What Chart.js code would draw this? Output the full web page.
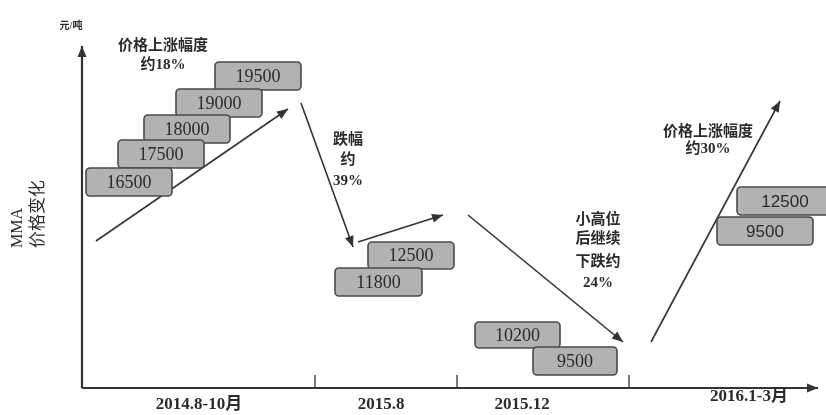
<!DOCTYPE html>
<html><head><meta charset="utf-8">
<script src="https://cdn.jsdelivr.net/npm/chart.js@4"></script>
<style>html,body{margin:0;padding:0;background:#fff}#wrap{width:826px;height:415px;position:relative}</style>
</head><body><div id="wrap"><canvas id="c"></canvas></div>
<script>
// ---- data ----
const periods = ['2014.8-10月', '2015.8', '2015.12', '2016.1-3月'];
const stage1Prices = [19500, 19000, 18000, 17500, 16500];
const stage2Prices = [12500, 11800];
const stage3Prices = [10200, 9500];
const stage4Prices = [12500, 9500];
const note1 = ['价格上涨幅度', '约18%'];
const note2 = ['跌幅', '约', '39%'];
const note3 = ['小高位', '后继续', '下跌约', '24%'];
const note4 = ['价格上涨幅度', '约30%'];
const yTitle = ['MMA', '价格变化'];
const unitLabel = '元/吨';

// ---- layout (diagram units, one unit per canvas pixel) ----
const W = 826, H = 415;
const boxLayout = [
  {prices: stage1Prices, rects: [[215,62,86,28],[176,89,86,28],[144,115,86,28],[118,140,86,28],[86,168,86,28]], font: '18px "Liberation Serif", serif'},
  {prices: stage2Prices, rects: [[368,242,86,27],[335,268,87,28]], font: '18px "Liberation Serif", serif'},
  {prices: stage3Prices, rects: [[475,322,85,26],[533,347,84,28]], font: '18px "Liberation Serif", serif'},
  {prices: stage4Prices, rects: [[737,187,96,28],[717,217,96,28]], font: '17px "Liberation Sans", sans-serif'}
];
const arrowPaths = [
  [[96,241],[288,109]],
  [[301,103],[353,247]],
  [[358,242],[443,215]],
  [[468,215],[623,342]],
  [[651,342],[780,101]]
];
const notesLayout = [
  {lines: note1, x: 163, ys: [46, 65]},
  {lines: note2, x: 348, ys: [140, 160, 181]},
  {lines: note3, x: 598, ys: [220, 239, 262, 283]},
  {lines: note4, x: 708, ys: [132, 149]}
];
const axisOrigin = [82, 388], xAxisEnd = [818, 388], yAxisEnd = [82, 46];
const tickXs = [315, 457, 629];
const periodPos = [[199,405],[381,405],[522,405],[749,397]];

const lineDs = (pts, w) => ({
  data: pts.map(p => ({x: p[0], y: p[1]})),
  showLine: true, borderColor: '#333', borderWidth: w, pointRadius: 0, fill: false
});
const datasets = [
  lineDs([axisOrigin, xAxisEnd], 2.2),
  lineDs([axisOrigin, yAxisEnd], 2.2),
  ...tickXs.map(x => lineDs([[x, 375],[x, axisOrigin[1]]], 1.3)),
  ...arrowPaths.map(p => lineDs(p, 1.6))
];
const arrowDatasetIdx = [0, 1, ...arrowPaths.map((_, i) => 2 + tickXs.length + i)];

const CJK = '"Liberation Serif", "Noto Sans CJK SC", serif';

const diagram = {
  id: 'diagram',
  beforeDraw(chart) {
    const c = chart.ctx;
    c.save(); c.fillStyle = '#fff'; c.fillRect(0, 0, chart.width, chart.height); c.restore();
  },
  afterDatasetsDraw(chart) {
    const c = chart.ctx, xs = chart.scales.x, ys = chart.scales.y;
    const px = v => xs.getPixelForValue(v), py = v => ys.getPixelForValue(v);
    c.save();
    // arrowheads
    arrowDatasetIdx.forEach(i => {
      const d = chart.data.datasets[i].data;
      const a = d[d.length - 2], b = d[d.length - 1];
      const x1 = px(a.x), y1 = py(a.y), x2 = px(b.x), y2 = py(b.y);
      const ang = Math.atan2(y2 - y1, x2 - x1);
      const L = 11, Wd = 4.5;
      c.fillStyle = '#333';
      c.beginPath();
      c.moveTo(x2, y2);
      c.lineTo(x2 - L * Math.cos(ang) + Wd * Math.sin(ang), y2 - L * Math.sin(ang) - Wd * Math.cos(ang));
      c.lineTo(x2 - L * Math.cos(ang) - Wd * Math.sin(ang), y2 - L * Math.sin(ang) + Wd * Math.cos(ang));
      c.closePath(); c.fill();
    });
    // boxes
    boxLayout.forEach(g => {
      const items = g.prices.map((p, i) => ({p, r: g.rects[i]})).sort((a, b) => a.r[1] - b.r[1]);
      items.forEach(it => {
        const [bx, by, bw, bh] = it.r;
        const x0 = px(bx), y0 = py(by), x1 = px(bx + bw), y1 = py(by + bh);
        c.beginPath();
        c.roundRect(x0, y0, x1 - x0, y1 - y0, 4);
        c.fillStyle = '#b2b2b2'; c.fill();
        c.lineWidth = 1.6; c.strokeStyle = '#4a4a4a'; c.stroke();
        c.fillStyle = '#2a2a2a'; c.font = g.font;
        c.textAlign = 'center'; c.textBaseline = 'middle';
        c.fillText(String(it.p), (x0 + x1) / 2, (y0 + y1) / 2 + 1);
      });
    });
    // notes
    c.fillStyle = '#2b2b2b';
    c.textAlign = 'center'; c.textBaseline = 'middle';
    notesLayout.forEach(n => {
      n.lines.forEach((t, i) => {
        c.font = 'bold 15px ' + CJK;
        c.fillText(t, px(n.x), py(n.ys[i]));
      });
    });
    // period labels
    c.font = 'bold 17px ' + CJK;
    periods.forEach((t, i) => c.fillText(t, px(periodPos[i][0]), py(periodPos[i][1])));
    // unit label
    c.font = 'bold 10px ' + CJK;
    c.fillText(unitLabel, px(71), py(26));
    // y title
    c.textAlign = 'left';
    c.save(); c.translate(px(18), py(248)); c.rotate(-Math.PI / 2);
    c.font = '16px "Liberation Serif", serif'; c.fillText(yTitle[0], 0, 0); c.restore();
    c.save(); c.translate(px(39), py(248)); c.rotate(-Math.PI / 2);
    c.font = '17px ' + CJK; c.fillText(yTitle[1], 0, 0); c.restore();
    c.restore();
  }
};

new Chart(document.getElementById('c'), {
  type: 'scatter',
  data: {datasets},
  options: {
    responsive: true, maintainAspectRatio: false, animation: false,
    layout: {padding: 0},
    plugins: {legend: {display: false}, tooltip: {enabled: false}},
    scales: {
      x: {type: 'linear', min: 0, max: W, display: false},
      y: {type: 'linear', min: 0, max: H, reverse: true, display: false}
    }
  },
  plugins: [diagram]
});
</script></body></html>
